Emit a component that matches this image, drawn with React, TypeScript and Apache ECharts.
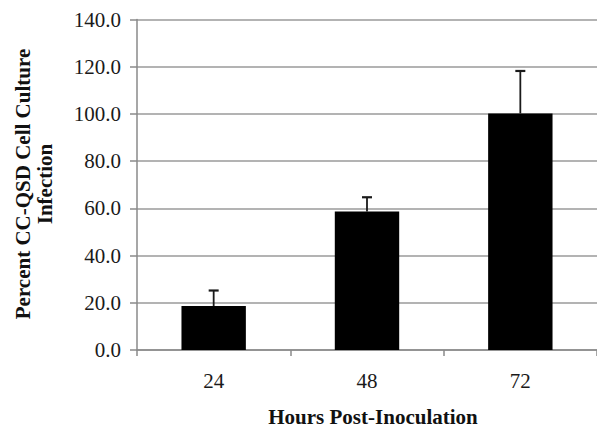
import React, { useEffect, useRef } from "react";
import * as echarts from "echarts";

const categories = ["24", "48", "72"];
const values = [18.6, 58.7, 100.2];
const errors = [6.6, 6.0, 18.0];
const yTicks = { min: 0, max: 140, interval: 20 };

const FONT = "'Liberation Serif', 'Times New Roman', serif";

export default function App() {
  const ref = useRef<HTMLDivElement>(null);
  useEffect(() => {
    const chart = echarts.init(ref.current!, null, { renderer: "svg" });
    const errData = values.map((v, i) => [i, v, v + errors[i]]);
    chart.setOption({
      animation: false,
      backgroundColor: "#ffffff",
      grid: { left: 137, top: 19.5, width: 470, height: 330.5 },
      xAxis: {
        type: "category",
        data: categories,
        axisLine: { lineStyle: { color: "#8a8a8a", width: 1.5 } },
        axisTick: { show: true, length: 6, alignWithLabel: false, lineStyle: { color: "#8a8a8a", width: 1.5 } },
        axisLabel: { fontFamily: FONT, fontSize: 21, color: "#1a1a1a", margin: 20 },
      },
      yAxis: {
        type: "value",
        min: yTicks.min,
        max: yTicks.max,
        interval: yTicks.interval,
        axisLine: { show: true, lineStyle: { color: "#8a8a8a", width: 1.5 } },
        axisTick: { show: true, length: 7, lineStyle: { color: "#8a8a8a", width: 1.5 } },
        splitLine: { lineStyle: { color: "#9a9a9a", width: 1.5 } },
        axisLabel: {
          fontFamily: FONT,
          fontSize: 21,
          color: "#1a1a1a",
          margin: 16,
          formatter: (v: number) => v.toFixed(1),
        },
      },
      series: [
        {
          type: "bar",
          data: values,
          barWidth: "42%",
          itemStyle: { color: "#000000" },
          z: 2,
        },
        {
          type: "custom",
          data: errData,
          z: 3,
          renderItem: (params: any, api: any) => {
            const x = api.value(0);
            const low = api.coord([x, api.value(1)]);
            const high = api.coord([x, api.value(2)]);
            const half = 5;
            return {
              type: "group",
              children: [
                {
                  type: "line",
                  shape: { x1: high[0], y1: high[1], x2: low[0], y2: low[1] },
                  style: { stroke: "#1a1a1a", lineWidth: 1.8 },
                },
                {
                  type: "line",
                  shape: { x1: high[0] - half, y1: high[1], x2: high[0] + half, y2: high[1] },
                  style: { stroke: "#1a1a1a", lineWidth: 2.2 },
                },
              ],
            };
          },
        },
      ],
      graphic: [
        {
          type: "text",
          x: 33.5,
          y: 184,
          rotation: Math.PI / 2,
          style: {
            text: "Percent CC-QSD Cell Culture\nInfection",
            fontFamily: FONT,
            fontWeight: "bold",
            fontSize: 21,
            lineHeight: 22,
            fill: "#111111",
            align: "center",
            verticalAlign: "middle",
          },
        },
        {
          type: "text",
          x: 373,
          y: 426,
          style: {
            text: "Hours Post-Inoculation",
            fontFamily: FONT,
            fontWeight: "bold",
            fontSize: 21,
            lineHeight: 19,
            fill: "#111111",
            align: "center",
            verticalAlign: "bottom",
          },
        },
      ],
    });
    return () => chart.dispose();
  }, []);
  return (
    <div
      ref={ref}
      style={{ position: "fixed", left: 0, top: 0, width: 597, height: 427 }}
    />
  );
}
